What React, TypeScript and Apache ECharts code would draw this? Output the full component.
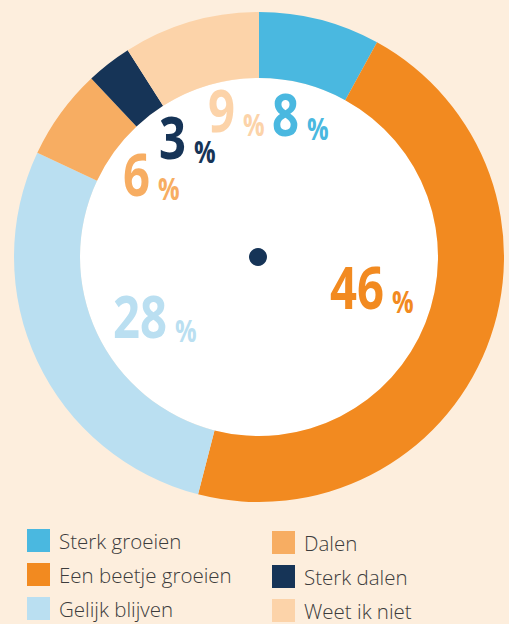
import React, { useEffect, useRef } from "react";
import * as echarts from "echarts";

const categories = ["Sterk groeien", "Een beetje groeien", "Gelijk blijven", "Dalen", "Sterk dalen", "Weet ik niet"];
const values = [8, 46, 28, 6, 3, 9];
const colors = ["#4ab8e0", "#f28a20", "#badff1", "#f7ad62", "#163457", "#fcd3a9"];
// label anchor positions (left x, bottom y) inside the donut hole
const labelPos: [number, number][] = [
  [272, 143],
  [330, 316],
  [113, 345],
  [123, 203],
  [159, 166],
  [208, 139],
];

const NUM_FONT = '"Open Sans", "Noto Sans", sans-serif';

export default function App() {
  const ref = useRef<HTMLDivElement>(null);
  useEffect(() => {
    if (!ref.current) return;
    const chart = echarts.init(ref.current, undefined, { renderer: "svg" });
    const cx = 259;
    const cy = 257;
    const texts = values.map((v, i) => ({
      type: "text",
      x: labelPos[i][0],
      y: labelPos[i][1],
      scaleX: 0.8,
      z: 100,
      style: {
        text: `{n|${v}}{p|%}`,
        align: "left",
        verticalAlign: "bottom",
        rich: {
          n: {
            fontSize: 59,
            fontWeight: "bold",
            fontFamily: NUM_FONT,
            fill: colors[i],
            lineHeight: 59,
            verticalAlign: "bottom",
          },
          p: {
            fontSize: 30,
            fontWeight: "bold",
            fontFamily: NUM_FONT,
            fill: colors[i],
            lineHeight: 38,
            verticalAlign: "bottom",
            padding: [0, 0, 0, 10],
          },
        },
      },
    }));
    const legendCommon = {
      orient: "vertical",
      icon: "rect",
      itemWidth: 23,
      itemHeight: 23,
      itemGap: 11,
      padding: 0,
      selectedMode: false,
      textStyle: {
        fontFamily: "'Open Sans', sans-serif",
        fontSize: 20.5,
        fontWeight: 300,
        color: "#3c3c3c",
        padding: [0, 0, 3, 4],
      },
    };
    chart.setOption({
      animation: false,
      backgroundColor: "#fdeedd",
      color: colors,
      legend: [
        { ...legendCommon, left: 27, top: 529, data: categories.slice(0, 3) },
        { ...legendCommon, left: 272, top: 531, data: categories.slice(3) },
      ],
      graphic: [
        { type: "circle", z: 0, shape: { cx, cy, r: 179 }, style: { fill: "#ffffff" } },
        { type: "circle", z: 100, shape: { cx: 258, cy: 257, r: 9 }, style: { fill: "#163457" } },
        ...texts,
      ],
      series: [
        {
          type: "pie",
          center: [cx, cy],
          radius: [179, 245],
          startAngle: 90,
          clockwise: true,
          label: { show: false },
          labelLine: { show: false },
          emphasis: { disabled: true },
          itemStyle: { borderWidth: 0 },
          data: categories.map((name, i) => ({ name, value: values[i] })),
        },
      ],
    });
    return () => chart.dispose();
  }, []);
  return <div ref={ref} style={{ position: "fixed", left: 0, top: 0, width: 509, height: 624 }} />;
}
